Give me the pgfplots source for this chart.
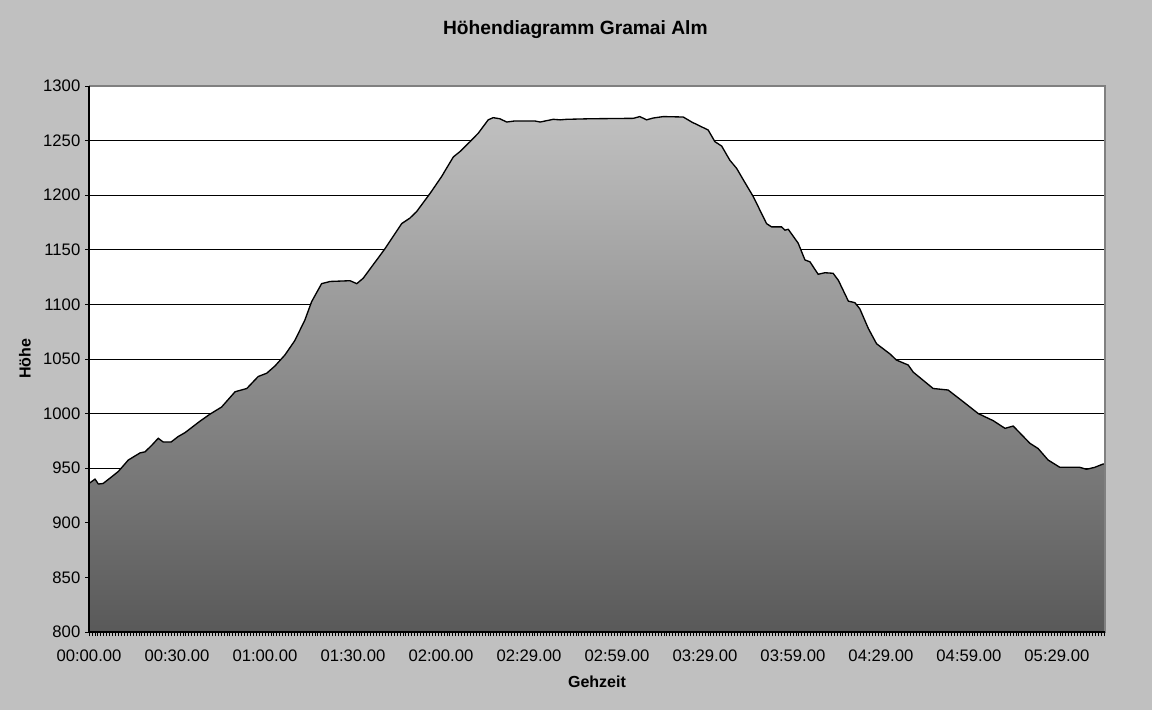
\documentclass[border=0pt]{standalone}
\usepackage{fontspec}
\setmainfont{Liberation Sans}
\usepackage{pgfplots}
\pgfplotsset{compat=1.18}
\definecolor{bg}{RGB}{192,192,192}
\definecolor{topc}{RGB}{192,192,192}
\definecolor{botc}{RGB}{89,89,89}
\definecolor{frame}{RGB}{128,128,128}
\begin{document}
\begin{tikzpicture}
\fill[bg] (0,0) rectangle (864pt,532.5pt);
\useasboundingbox (0,0) rectangle (864pt,532.5pt);
\node[font=\bfseries\fontsize{14.4}{17}\selectfont] at (431.5pt,510.5pt) {Höhendiagramm Gramai Alm};
\begin{axis}[
  at={(66.75pt,58.5pt)}, anchor=south west, scale only axis,
  width=762pt, height=409.5pt,
  xmin=0, xmax=346.4, ymin=800, ymax=1300,
  ytick={800,850,...,1300},
  xtick={0,30,...,330},
  xticklabels={00:00.00,00:30.00,01:00.00,01:30.00,02:00.00,02:29.00,02:59.00,03:29.00,03:59.00,04:29.00,04:59.00,05:29.00},
  minor xtick={0,1,...,346},
  ymajorgrids, grid style={black, line width=0.75pt},
  axis lines=left, axis line style={-, draw=none},
  tick align=outside, major tick length=3pt, minor tick length=3pt,
  tick style={black, line width=0.5pt},
  axis background/.style={fill=white},
  /pgf/number format/assume math mode=true,
  /pgf/number format/set thousands separator={},
  tick label style={font=\fontsize{12.5}{14}\selectfont},
  xticklabel style={yshift=-6.5pt},
  xlabel={Gehzeit}, ylabel={Höhe},
  label style={font=\bfseries\fontsize{12}{14}\selectfont},
  xlabel style={at={(axis description cs:0.5,-0.0916)}, anchor=center},
  ylabel style={at={(axis description cs:-0.063,0.5)}, anchor=center},
  clip=false,
]
\addplot[draw=black, line width=1pt, top color=topc, bottom color=botc] coordinates {
(0,936) (2.05,940) (3.2,935.5) (4.8,936) (7.2,941) (10.0,947) (13.4,957.5) (17.4,964) (19.1,965) (21.4,971) (23.6,977.4) (25.3,974) (28.0,974) (30.4,979) (32.7,982.5) (37.8,993) (41.3,999.6) (45.2,1006) (49.8,1020) (53.8,1023) (57.7,1034) (60.6,1037) (63.4,1043.6) (66.8,1053.7) (70.2,1067) (73.6,1085.7) (75.9,1102.5) (79.3,1119) (82.2,1121) (89.0,1121.7) (91.3,1119) (93.5,1124) (96.4,1134.6) (98.1,1140.7) (100.9,1151) (106.6,1174) (109.4,1179) (111.7,1185) (116.3,1201.7) (120.2,1217) (124.2,1235) (126.5,1240) (129.9,1249) (132.7,1256.7) (136.1,1269) (137.8,1271) (140.1,1270) (142.4,1267) (145.2,1268) (152.0,1268) (153.8,1267) (158.3,1269.5) (160.6,1269) (162.9,1269.5) (170.8,1270) (185.6,1270.4) (187.8,1272) (190.1,1269) (192.4,1270.7) (195.8,1272) (202.6,1271.6) (205.5,1267) (211.1,1259.7) (213.4,1249) (215.7,1245) (218.5,1232) (220.8,1224.6) (223.1,1214) (226.5,1198.6) (231.0,1174) (232.7,1171) (236.1,1171) (237.3,1168) (238.4,1168.8) (241.8,1156) (244.1,1140.7) (245.8,1139) (248.6,1127.6) (250.9,1129) (253.7,1128.5) (255.5,1122) (258.9,1103) (261.1,1101.6) (262.8,1096) (265.7,1078) (268.5,1064) (273.1,1054.6) (275.3,1049) (279.3,1044.5) (281.0,1038) (287.8,1023) (292.9,1021.6) (298.0,1011) (303.2,1000) (308.3,993.5) (312.3,986.5) (315.1,988.6) (320.8,972.8) (323.6,968) (327.0,957.5) (331.0,950.8) (337.8,950.8) (340.1,949) (342.9,950.8) (345.7,953.8) (346.4,954)
} \closedcycle;
\draw[frame, line width=1.5pt] (rel axis cs:0,1) -- (rel axis cs:1,1) -- (rel axis cs:1,0);
\draw[black, line width=1pt] (rel axis cs:0,1) -- (rel axis cs:0,0) -- (rel axis cs:1,0);
\end{axis}
\end{tikzpicture}
\end{document}
